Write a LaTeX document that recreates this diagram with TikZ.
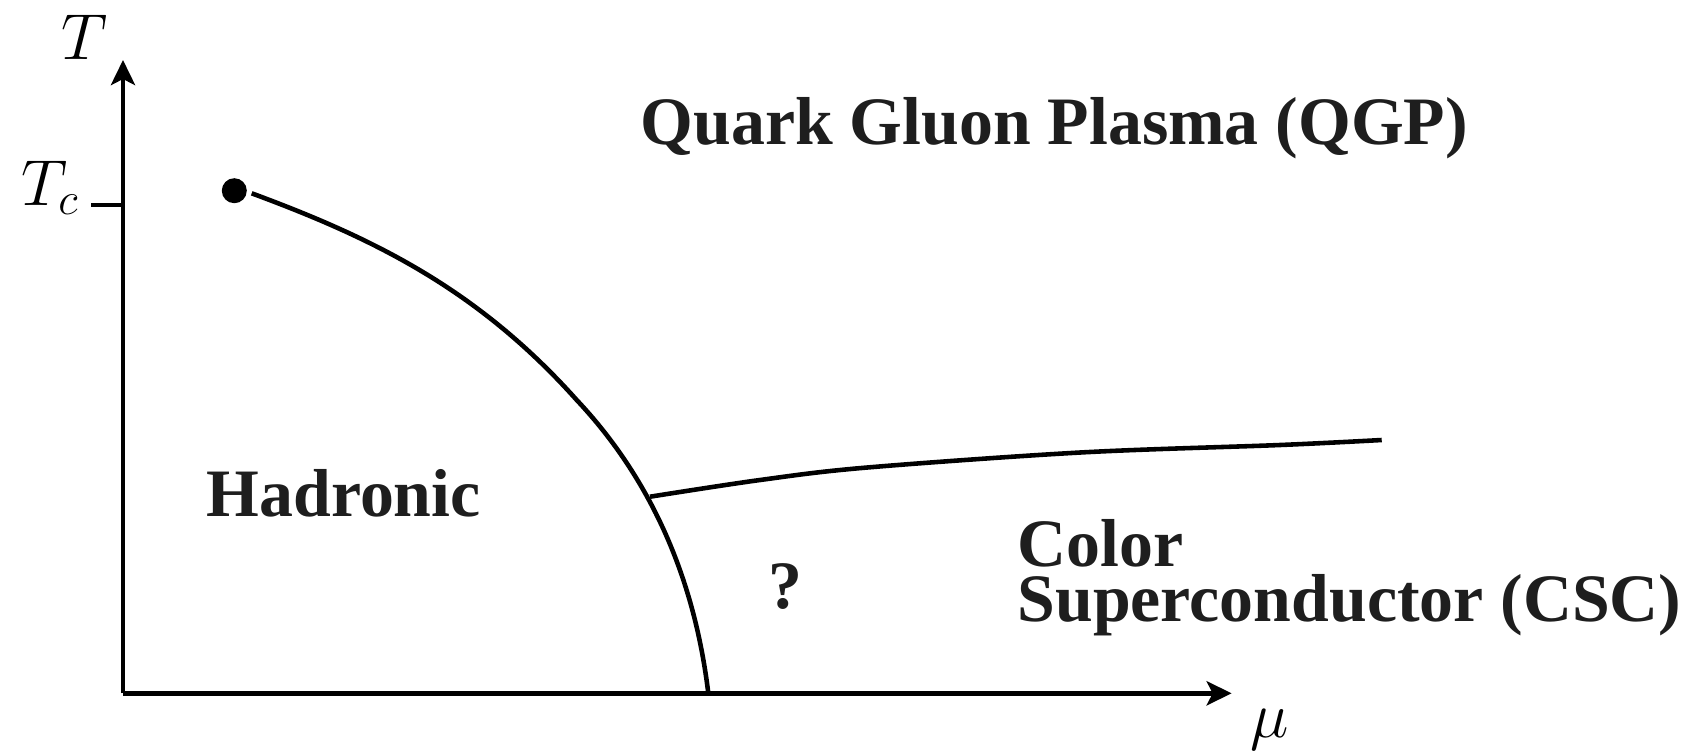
\RequirePackage{fix-cm}
\documentclass[tikz,border=0pt]{standalone}
\usepackage{fontspec}
\newfontfamily\regionfont{Liberation Serif}
\usepackage{tikz}
\usetikzlibrary{arrows.meta,positioning}
\definecolor{ink}{HTML}{1E1E1E}

\begin{document}
\begin{tikzpicture}[
  axis/.style={line width=1.4pt, -{Stealth[length=0.25cm, width=0.24cm, inset=0.06cm]}},
  tick/.style={line width=1.4pt},
  border/.style={line width=1.3pt, line join=round},
  region/.style={font=\regionfont\bfseries\fontsize{19.3}{15.6}\selectfont, text=ink, inner sep=0pt},
  lbl/.style={font=\fontsize{18.5}{22}\selectfont, inner sep=0pt},
]
  \useasboundingbox (0,0) rectangle (16.97,7.52);

  % Axes
  \coordinate (origin) at (1.23,0.587);
  \coordinate (ttop) at (1.23,6.92);
  \coordinate (mutop) at (12.317,0.587);
  \coordinate (tc) at (1.23,5.47);
  \draw[axis] (origin) -- (ttop);
  \draw[axis] (origin) -- (mutop);
  \draw[tick] (tc) -- ++(-0.32,0);

  % Axis labels
  \node[lbl, anchor=base] (tlabel) at (0.85,6.93) {$T$};
  \node[lbl, anchor=base east] (tclabel) at (0.80,5.47) {$T_c$};
  \node[lbl, anchor=base] (mulabel) at (12.70,0.15) {$\mu$};

  % Critical point and phase boundaries
  \node[circle, fill=black, inner sep=0pt, minimum size=0.25cm] (cep) at (2.343,5.613) {};
  \coordinate (bend) at (5.767,3.52);
  \coordinate (foot) at (7.083,0.587);
  \coordinate (triple) at (6.50,2.553);
  \coordinate (cscend) at (13.817,3.12);
  \draw[border] (2.517,5.587) .. controls (3.717,5.143) and (4.767,4.64) .. (bend)
    .. controls (6.54,2.70) and (6.951,1.687) .. (foot);
  \draw[border] plot[smooth, tension=0.55] coordinates {
    (triple) (7.60,2.72) (8.66,2.844) (10.82,2.996) (12.80,3.07) (cscend)};

  % Phases
  \node[region, anchor=base west] (qgp) at (6.40,6.08) {Quark Gluon Plasma (QGP)};
  \node[region, anchor=base west] (hadr) at (2.06,2.353) {Hadronic};
  \node[region, anchor=base] (unknown) at (7.85,1.44) {?};
  \node[region, anchor=base west, align=left] (csc) at (10.17,1.303) {Color\\Superconductor (CSC)};
\end{tikzpicture}
\end{document}
